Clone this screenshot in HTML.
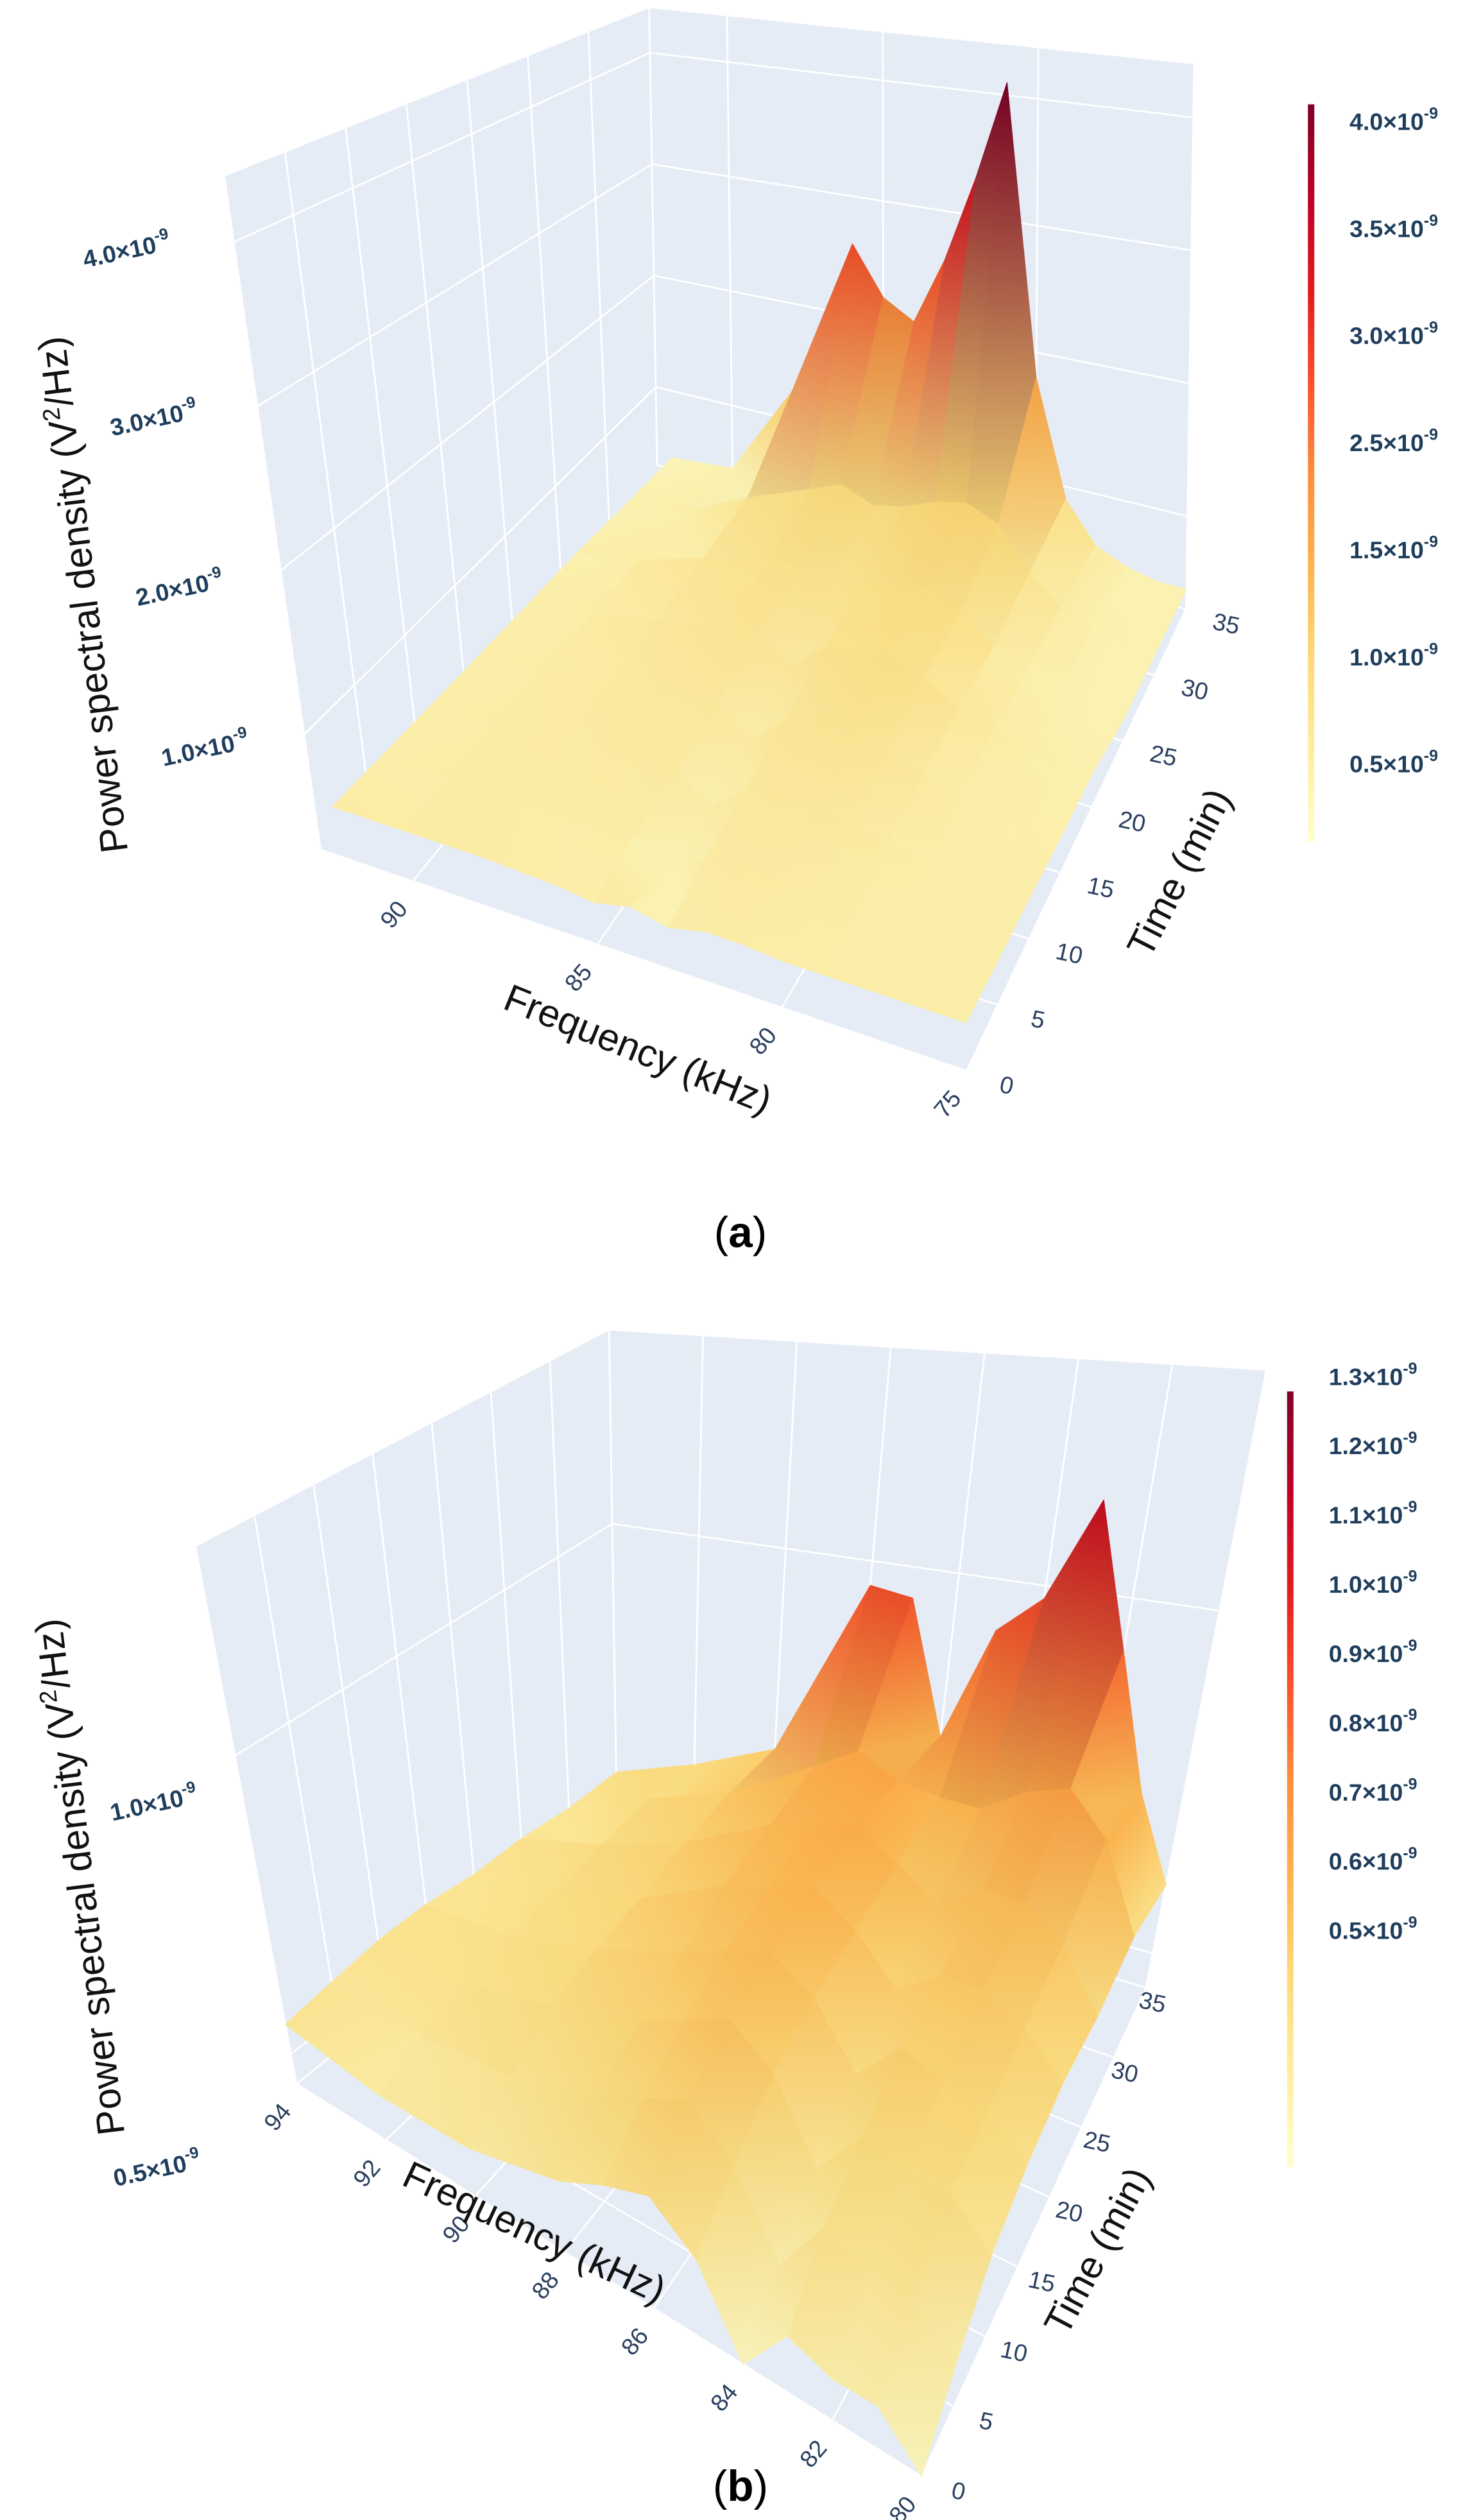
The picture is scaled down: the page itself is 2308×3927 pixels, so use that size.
<!DOCTYPE html>
<html><head><meta charset="utf-8"><title>PSD surfaces</title>
<style>
html,body{margin:0;padding:0;background:#fff;}
svg{display:block;}
text{font-family:"Liberation Sans","DejaVu Sans",sans-serif;}
</style></head>
<body>
<svg id="fig" width="2308" height="3927" viewBox="0 0 924 1572" xmlns="http://www.w3.org/2000/svg">
<defs id="defs">
<linearGradient id="cbar" x1="0" y1="1" x2="0" y2="0">
<stop offset="0" stop-color="#ffffcc"/><stop offset="0.125" stop-color="#ffeda0"/><stop offset="0.25" stop-color="#fed976"/><stop offset="0.375" stop-color="#feb24c"/><stop offset="0.5" stop-color="#fd8d3c"/><stop offset="0.625" stop-color="#fc4e2a"/><stop offset="0.75" stop-color="#e31a1c"/><stop offset="0.875" stop-color="#bd0026"/><stop offset="1" stop-color="#800026"/>
</linearGradient>
</defs>
<g id="panelA"></g>
<g id="panelB"></g>
</svg>
<script>
// ---------- Panel (a) data ----------
const freqA = [92,90,88,86,85,84,83,82,81,80,79,78,77,76,75];
const timeA = [0,5,10,15,20,25,30,35];
const psdA_t0  = [.6,.6,.6,.58,.55,.6,.55,.6,.6,.58,.58,.58,.58,.58,.58];
const psdA_t5  = [.58,.6,.6,.6,.6,.45,.62,.65,.62,.6,.58,.57,.56,.56,.56];
const psdA_t10 = [.56,.6,.62,.64,.65,.5,.68,.72,.7,.66,.6,.57,.55,.55,.55];
const psdA_t15 = [.54,.6,.65,.7,.72,.55,.75,.8,.8,.74,.65,.58,.54,.53,.53];
const psdA_t20 = [.52,.6,.7,.78,.8,.65,.85,.9,.92,.85,.7,.6,.54,.52,.52];
const psdA_t25 = [.5,.6,.75,.85,.9,.8,.9,.95,1.0,.9,.7,.58,.5,.48,.45];
const psdA_t30 = [.45,.55,.8,1.0,1.1,1.0,1.05,1.15,1.2,1.1,.8,.6,.5,.48,.45];
const psdA_t35 = [.4,.45,1.25,2.6,2.2,2.05,2.6,3.3,4.1,1.8,.9,.6,.5,.45,.45];
const psdA = [psdA_t0,psdA_t5,psdA_t10,psdA_t15,psdA_t20,psdA_t25,psdA_t30,psdA_t35];
const zTicksA = [1.0,2.0,3.0,4.0];
const fTicksA = [90,85,80,75];
const tTicks = [0,5,10,15,20,25,30,35];
const cbTicksA = ["4.0","3.5","3.0","2.5","1.5","1.0","0.5"];

// ---------- Panel (b) data ----------
const freqB = [94,92,90,88,87,86,85,84,83,82,81,80];
const timeB = [0,5,10,15,20,25,30,35];
const psdB_t0  = [.55,.52,.52,.55,.58,.6,.55,.45,.52,.5,.5,.45];
const psdB_t5  = [.56,.55,.56,.6,.63,.66,.6,.5,.58,.55,.55,.5];
const psdB_t10 = [.57,.57,.6,.64,.67,.7,.65,.55,.62,.6,.6,.55];
const psdB_t15 = [.57,.58,.62,.67,.7,.72,.68,.6,.66,.64,.62,.58];
const psdB_t20 = [.56,.59,.63,.7,.72,.74,.7,.64,.68,.68,.65,.6];
const psdB_t25 = [.56,.6,.65,.72,.74,.76,.72,.68,.72,.72,.68,.6];
const psdB_t30 = [.55,.61,.66,.74,.78,.75,.74,.74,.78,.8,.74,.62];
const psdB_t35 = [.55,.6,.66,.96,.95,.74,.92,.98,1.14,.92,.72,.6];
const psdB = [psdB_t0,psdB_t5,psdB_t10,psdB_t15,psdB_t20,psdB_t25,psdB_t30,psdB_t35];
const zTicksB = [0.5,1.0];
const fTicksB = [94,92,90,88,86,84,82,80];
const cbTicksB = ["1.3","1.2","1.1","1.0","0.9","0.8","0.7","0.6","0.5"];

const NS = "http://www.w3.org/2000/svg";
const defs = document.getElementById('defs');
let gid = 0;
const stops = [[0,[255,255,204]],[.125,[255,237,160]],[.25,[254,217,118]],[.375,[254,178,76]],[.5,[253,141,60]],[.625,[252,78,42]],[.75,[227,26,28]],[.875,[189,0,38]],[1,[128,0,38]]];
function cmap(s){
  s=Math.max(0,Math.min(1,s));
  for(let i=1;i<stops.length;i++){ if(s<=stops[i][0]){
    const a=stops[i-1],b=stops[i],k=(s-a[0])/(b[0]-a[0]);
    return a[1].map((c,j)=>Math.round(c+(b[1][j]-c)*k)); } }
  return stops[stops.length-1][1];
}
function el(parent,tag,attrs){const e=document.createElementNS(NS,tag);for(const k in attrs)e.setAttribute(k,attrs[k]);parent.appendChild(e);return e;}

function drawPanel(g, cfg){
  const {L,F,R,B,Lt,Ft,Rt,Bt,fmax,fmin,tmax,zmin,zmax,cmin,cmax} = cfg;
  function proj(f,t,z){
    const u=(fmax-f)/(fmax-fmin), v=t/tmax, w=(z-zmin)/(zmax-zmin);
    const wl=(1-u)*(1-v), wf=u*(1-v), wr=u*v, wb=(1-u)*v;
    const bx=L[0]*wl+F[0]*wf+R[0]*wr+B[0]*wb, by=L[1]*wl+F[1]*wf+R[1]*wr+B[1]*wb;
    const tx=Lt[0]*wl+Ft[0]*wf+Rt[0]*wr+Bt[0]*wb, ty=Lt[1]*wl+Ft[1]*wf+Rt[1]*wr+Bt[1]*wb;
    return [bx+(tx-bx)*w, by+(ty-by)*w];
  }
  const pts=a=>a.map(p=>p[0].toFixed(2)+","+p[1].toFixed(2)).join(" ");
  const floor=el(g,"polygon",{points:pts([L,F,R,B]),fill:"#e5ecf6"});
  
  
  const lw=el(g,"polygon",{points:pts([L,B,Bt,Lt]),fill:"#e5ecf6"});
  
  
  const bw=el(g,"polygon",{points:pts([B,R,Rt,Bt]),fill:"#e5ecf6"});
  
  
  const grid=el(g,"g",{stroke:"#ffffff","stroke-width":"1.1",fill:"none"});
  
  
  cfg.fTicks.forEach(f=>{
    el(grid,"polyline",{points:pts([proj(f,0,zmin),proj(f,tmax,zmin),proj(f,tmax,zmax)])});
  });
  cfg.tTicks.forEach(t=>{
    el(grid,"polyline",{points:pts([proj(fmin,t,zmin),proj(fmax,t,zmin),proj(fmax,t,zmax)])});
  });
  cfg.zTicks.forEach(z=>{
    el(grid,"polyline",{points:pts([proj(fmax,0,z),proj(fmax,tmax,z),proj(fmin,tmax,z)])});
  });
  const surf=el(g,"g",{});
  
  
  const fr=cfg.freq, tm=cfg.time, Z=cfg.psd, quads=[];
  for(let j=0;j<tm.length-1;j++) for(let i=0;i<fr.length-1;i++){
    const z4=[Z[j][i],Z[j][i+1],Z[j+1][i+1],Z[j+1][i]];
    const P=[proj(fr[i],tm[j],z4[0]),proj(fr[i+1],tm[j],z4[1]),proj(fr[i+1],tm[j+1],z4[2]),proj(fr[i],tm[j+1],z4[3])];
    const depth=(fr[i]+fr[i+1]-2*fmin)/(fmax-fmin)/2+(tm[j]+tm[j+1])/tmax/2;
    const slope=(z4[2]+z4[3]-z4[0]-z4[1])/2/(zmax-zmin);
    quads.push({P,depth,z4,slope});
  }
  quads.sort((a,b)=>b.depth-a.depth);
  quads.forEach(q=>{
    const shade=Math.max(0.93,1-Math.max(0,q.slope)*0.3)*0.985;
    let imin=0,imax=0;
    for(let k=1;k<4;k++){ if(q.z4[k]<q.z4[imin])imin=k; if(q.z4[k]>q.z4[imax])imax=k; }
    const c0=cmap((q.z4[imin]-cmin)/(cmax-cmin)).map(x=>Math.round(x*shade));
    const c1=cmap((q.z4[imax]-cmin)/(cmax-cmin)).map(x=>Math.round(x*shade));
    const s0=`rgb(${c0[0]},${c0[1]},${c0[2]})`, s1=`rgb(${c1[0]},${c1[1]},${c1[2]})`;
    let fill=s0;
    const a=q.P[imin], b=q.P[imax];
    if(imin!==imax && Math.hypot(b[0]-a[0],b[1]-a[1])>0.5){
      const id='sg'+(gid++);
      const lg=el(defs,"linearGradient",{id:id,gradientUnits:"userSpaceOnUse",x1:a[0].toFixed(2),y1:a[1].toFixed(2),x2:b[0].toFixed(2),y2:b[1].toFixed(2)});
      el(lg,"stop",{offset:"0","stop-color":s0});
      el(lg,"stop",{offset:"1","stop-color":s1});
      fill=`url(#${id})`;
    }
    const p=el(surf,"polygon",{points:pts(q.P),fill:fill,stroke:fill,"stroke-width":"0.5","stroke-linejoin":"round"});
    
    
  });
  cfg.fTicks.forEach(f=>{
    const p=proj(f,0,zmin);
    const x=(p[0]-8).toFixed(1), y=(p[1]+24).toFixed(1);
    const t=el(g,"text",{x:x,y:y,"font-size":"15",fill:"#2a3f5f","text-anchor":"middle",transform:`rotate(-50 ${x} ${y})`});
    t.textContent=f;
    
    
  });
  cfg.tTicks.forEach(tv=>{
    const p=proj(fmin,tv,zmin);
    const off=cfg.tOff0+(cfg.tOff1-cfg.tOff0)*tv/tmax;
    const x=(p[0]+off).toFixed(1), y=(p[1]+14).toFixed(1);
    const t=el(g,"text",{x:x,y:y,"font-size":"15",fill:"#2a3f5f","text-anchor":"middle",transform:`rotate(12 ${x} ${y})`});
    t.textContent=tv;
    
    
  });
  cfg.zLabels.forEach((lab,k)=>{
    const t=el(g,"text",{x:lab[0],y:lab[1],"font-size":"15","font-weight":"bold",fill:"#1f3d5c",transform:`rotate(-12 ${lab[0]} ${lab[1]})`});
    t.textContent=cfg.zTicks[k].toFixed(1)+"×10";
    const s=el(t,"tspan",{"font-size":"10",dy:"-7"}); s.textContent="-9";
    
    
  });
  const cb=el(g,"rect",{x:cfg.cbX,y:cfg.cbTop,width:4,height:cfg.cbBot-cfg.cbTop,fill:"url(#cbar)"});
  
  
  cfg.cbTicks.forEach((lab,k)=>{
    const y=cfg.cbLabelY0+k*cfg.cbLabelDy;
    const t=el(g,"text",{x:cfg.cbX+26,y:y,"font-size":"15","font-weight":"bold",fill:"#1f3d5c"});
    t.textContent=lab+"×10";
    const s=el(t,"tspan",{"font-size":"10",dy:"-7"}); s.textContent="-9";
    
    
  });
  const yt=el(g,"text",{x:0,y:0,"font-size":"24",fill:"#111","text-anchor":"middle",transform:`translate(${cfg.yTitle[0]},${cfg.yTitle[1]}) rotate(-97)`});
  yt.textContent="Power spectral density (V";
  const sup=el(yt,"tspan",{"font-size":"15",dy:"-9"}); sup.textContent="2";
  const rest=el(yt,"tspan",{dy:"9"}); rest.textContent="/Hz)";
  
  
  const xt=el(g,"text",{x:0,y:0,"font-size":"24",fill:"#111","text-anchor":"middle",transform:`translate(${cfg.xTitle[0]},${cfg.xTitle[1]}) rotate(${cfg.xTitle[2]})`});
  xt.textContent="Frequency (kHz)";
  
  
  const tt=el(g,"text",{x:0,y:0,"font-size":"24",fill:"#111","text-anchor":"middle",transform:`translate(${cfg.tTitle[0]},${cfg.tTitle[1]}) rotate(${cfg.tTitle[2]})`});
  tt.textContent="Time (min)";
  
  
  const cap=el(g,"text",{x:462,y:cfg.capY,"font-size":"27",fill:"#000","text-anchor":"middle","font-family":"Liberation Serif, serif"});
  cap.textContent="(";
  const cb2=el(cap,"tspan",{"font-weight":"bold"}); cb2.textContent=cfg.cap;
  const cb3=el(cap,"tspan",{}); cb3.textContent=")";
  
  
}

drawPanel(document.getElementById('panelA'),{
  L:[200,530],F:[603,668],R:[740,380],B:[410,290],
  Lt:[140,110],Ft:[598,228],Rt:[745,40],Bt:[405,5],
  fmax:92.5,fmin:75,tmax:35,zmin:0.3,zmax:4.4,cmin:0.2,cmax:4.1,
  freq:freqA,time:timeA,psd:psdA,fTicks:fTicksA,tTicks:tTicks,zTicks:zTicksA,
  tOff0:24,tOff1:24,
  zLabels:[[102,478],[86,378],[70,272],[53,167]],
  cbX:816,cbTop:65,cbBot:525,cbTicks:cbTicksA,cbLabelY0:81,cbLabelDy:66.8,
  yTitle:[60,370],xTitle:[395,662,22],tTitle:[743,548,-63],capY:778,cap:"a"
});
drawPanel(document.getElementById('panelB'),{
  L:[185,1300],F:[575,1545],R:[715,1240],B:[385,1140],
  Lt:[122,965],Ft:[590,1060],Rt:[790,855],Bt:[380,830],
  fmax:94,fmin:80,tmax:35,zmin:0.45,zmax:1.35,cmin:0.42,cmax:1.3,
  freq:freqB,time:timeB,psd:psdB,fTicks:fTicksB,tTicks:tTicks,zTicks:zTicksB,
  tOff0:22,tOff1:3,
  zLabels:[[72,1364],[70,1136]],
  cbX:803,cbTop:868,cbBot:1352,cbTicks:cbTicksB,cbLabelY0:864,cbLabelDy:43.2,
  yTitle:[58,1170],xTitle:[330,1400,25],tTitle:[692,1408,-62],capY:1560,cap:"b"
});
</script>
</body></html>
